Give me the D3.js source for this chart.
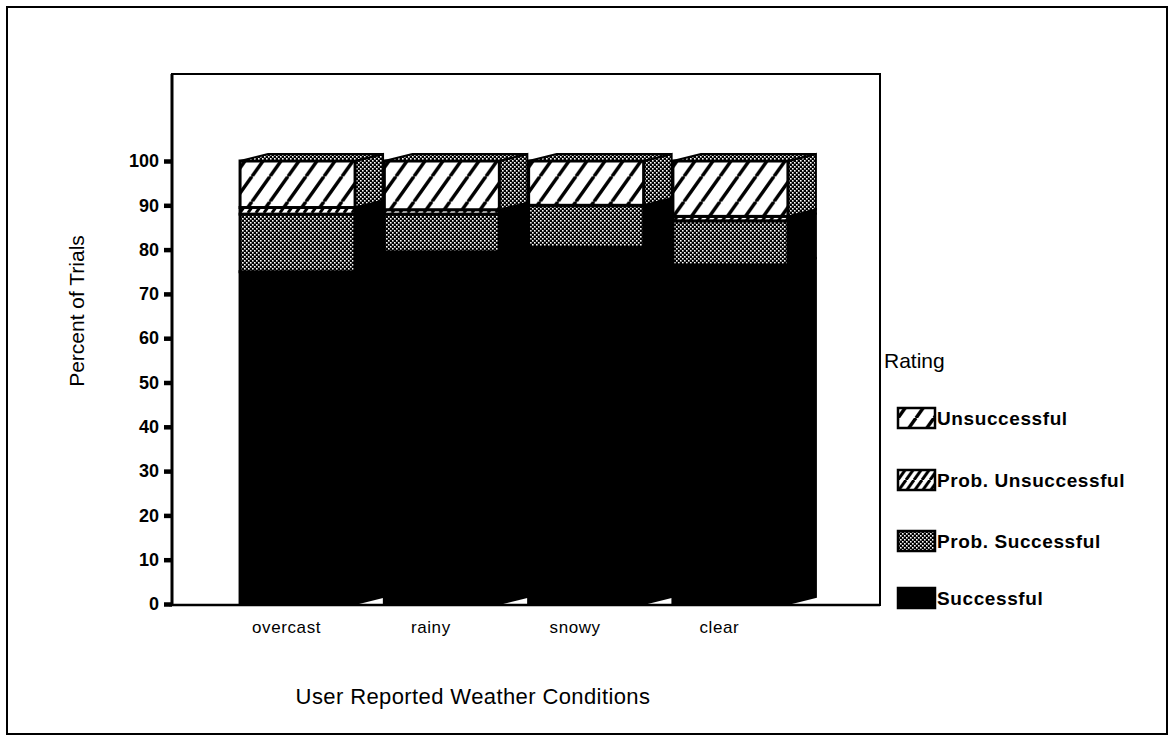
<!DOCTYPE html>
<html>
<head>
<meta charset="utf-8">
<script src="https://cdn.jsdelivr.net/npm/d3@7"></script>
<style>
    body { margin: 0; background: #fff; }
    text { font-family: "Liberation Sans", Arial, Helvetica, sans-serif; fill: #000; }
</style>
</head>
<body>
<div id="chart"></div>
<script>
const categories = ["overcast", "rainy", "snowy", "clear"];
const ratings = ["Successful", "Prob. Successful", "Prob. Unsuccessful", "Unsuccessful"];
const successful = [75, 79.5, 80.5, 76.5];
const probSuccessful = [13, 8.5, 9.5, 10];
const probUnsuccessful = [1.5, 1, 0, 1];
const unsuccessful = [10.5, 11, 10, 12.5];
const yTicks = [0, 10, 20, 30, 40, 50, 60, 70, 80, 90, 100];
const legendOrder = ["Unsuccessful", "Prob. Unsuccessful", "Prob. Successful", "Successful"];

(function () {
    const width = 1174, height = 741;
    const plot = {left: 172, top: 74, right: 880, bottom: 605};
    const depthX = 28, depthY = 7;

    const svg = d3.select("#chart").append("svg").attr("width", width).attr("height", height);
    const defs = svg.append("defs");

    // diagonal hatch, lines running up to the right
    function hatch(id, period, rise, sw) {
        const h = period * rise;
        const p = defs.append("pattern").attr("id", id).attr("patternUnits", "userSpaceOnUse")
            .attr("width", period).attr("height", h);
        p.append("rect").attr("width", period).attr("height", h).attr("fill", "#fff");
        p.append("path")
            .attr("d", [-1, 0, 1].map(k => `M${k * period},${h} L${(k + 1) * period},0`).join(" "))
            .attr("stroke", "#000").attr("stroke-width", sw);
    }
    hatch("hatch-wide", 18, 1.4, 3.5);
    hatch("hatch-dense", 8, 1.4, 3);

    const dots = defs.append("pattern").attr("id", "dots").attr("patternUnits", "userSpaceOnUse")
        .attr("width", 4).attr("height", 4);
    dots.append("rect").attr("width", 4).attr("height", 4).attr("fill", "#000");
    dots.append("rect").attr("width", 1.6).attr("height", 1.6).attr("fill", "#fff");
    dots.append("rect").attr("x", 2).attr("y", 2).attr("width", 1.6).attr("height", 1.6).attr("fill", "#fff");

    const fills = {
        "Successful": "#000",
        "Prob. Successful": "url(#dots)",
        "Prob. Unsuccessful": "url(#hatch-dense)",
        "Unsuccessful": "url(#hatch-wide)"
    };

    svg.append("rect").attr("width", width).attr("height", height).attr("fill", "#fff");
    svg.append("rect").attr("x", 7).attr("y", 7).attr("width", 1160).attr("height", 727)
        .attr("fill", "none").attr("stroke", "#000").attr("stroke-width", 2);

    const x = d3.scaleBand().domain(categories).range([plot.left, plot.right])
        .paddingInner(0.203).paddingOuter(0.555).align(0.425);
    const y = d3.scaleLinear().domain([0, 100]).range([604, 161]);
    const bw = x.bandwidth();

    const rows = categories.map((c, i) => ({
        cat: c,
        "Successful": successful[i],
        "Prob. Successful": probSuccessful[i],
        "Prob. Unsuccessful": probUnsuccessful[i],
        "Unsuccessful": unsuccessful[i]
    }));
    const series = d3.stack().keys(ratings)(rows);

    // plot frame
    svg.append("rect").attr("x", plot.left).attr("y", plot.top)
        .attr("width", plot.right - plot.left).attr("height", plot.bottom - plot.top)
        .attr("fill", "none").attr("stroke", "#000").attr("stroke-width", 2);

    const bars = svg.append("g");
    for (let s of series) {
        const g = bars.append("g");
        s.forEach(d => {
            if (d[1] - d[0] <= 0) return;
            const x0 = x(d.data.cat), y0 = y(d[0]), y1 = y(d[1]);
            g.append("polygon")
                .attr("points", [[x0 + bw, y1], [x0 + bw + depthX, y1 - depthY],
                    [x0 + bw + depthX, y0 - depthY], [x0 + bw, y0]].join(" "))
                .attr("fill", s.key === "Unsuccessful" ? "url(#dots)" : "#000")
                .attr("stroke", "#000").attr("stroke-width", 2);
            g.append("rect").attr("x", x0).attr("y", y1).attr("width", bw).attr("height", y0 - y1)
                .attr("fill", fills[s.key]).attr("stroke", "#000").attr("stroke-width", 3);
        });
    }
    // top faces
    const top = series[series.length - 1];
    bars.selectAll(".top").data(top).enter().append("polygon")
        .attr("points", d => {
            const x0 = x(d.data.cat), yt = y(d[1]);
            return [[x0, yt], [x0 + depthX, yt - depthY], [x0 + bw + depthX, yt - depthY], [x0 + bw, yt]].join(" ");
        })
        .attr("fill", "url(#dots)").attr("stroke", "#000").attr("stroke-width", 2);

    // y axis
    const yAxis = svg.append("g").attr("transform", `translate(${plot.left},0)`)
        .call(d3.axisLeft(y).tickValues(yTicks).tickSize(8).tickPadding(5));
    yAxis.select(".domain").remove();
    yAxis.selectAll(".tick line").attr("stroke", "#000").attr("stroke-width", 4.5);
    yAxis.selectAll(".tick text").attr("font-size", 18).attr("font-weight", "bold")
        .attr("font-family", "Liberation Sans, Arial, sans-serif").attr("fill", "#000");
    svg.append("line").attr("x1", plot.left).attr("x2", plot.left).attr("y1", plot.top).attr("y2", plot.bottom + 1)
        .attr("stroke", "#000").attr("stroke-width", 3);
    svg.append("line").attr("x1", plot.left - 3).attr("x2", plot.right).attr("y1", plot.bottom).attr("y2", plot.bottom)
        .attr("stroke", "#000").attr("stroke-width", 2.5);

    // category labels
    svg.selectAll(".cat").data(categories).enter().append("text")
        .attr("x", d => x(d) + bw / 2 - 11).attr("y", 633)
        .attr("text-anchor", "middle").attr("font-size", 17).attr("letter-spacing", 0.6).text(d => d);

    svg.append("text").attr("x", 473).attr("y", 704).attr("text-anchor", "middle")
        .attr("font-size", 22).attr("letter-spacing", 0.4).text("User Reported Weather Conditions");
    svg.append("text").attr("transform", "translate(84,311) rotate(-90)").attr("text-anchor", "middle")
        .attr("font-size", 21).text("Percent of Trials");

    // legend
    svg.append("text").attr("x", 884).attr("y", 368).attr("font-size", 21).text("Rating");
    const legendY = [418, 480, 541, 598];
    const leg = svg.selectAll(".leg").data(legendOrder).enter().append("g")
        .attr("transform", (d, i) => `translate(898,${legendY[i]})`);
    leg.append("rect").attr("x", 0).attr("y", -10).attr("width", 37).attr("height", 20)
        .attr("fill", d => fills[d]).attr("stroke", "#000").attr("stroke-width", 2.5);
    leg.append("text").attr("x", 39).attr("y", 7).attr("font-size", 19).attr("font-weight", "bold")
        .attr("letter-spacing", 0.6).text(d => d);
})();
</script>
</body>
</html>
